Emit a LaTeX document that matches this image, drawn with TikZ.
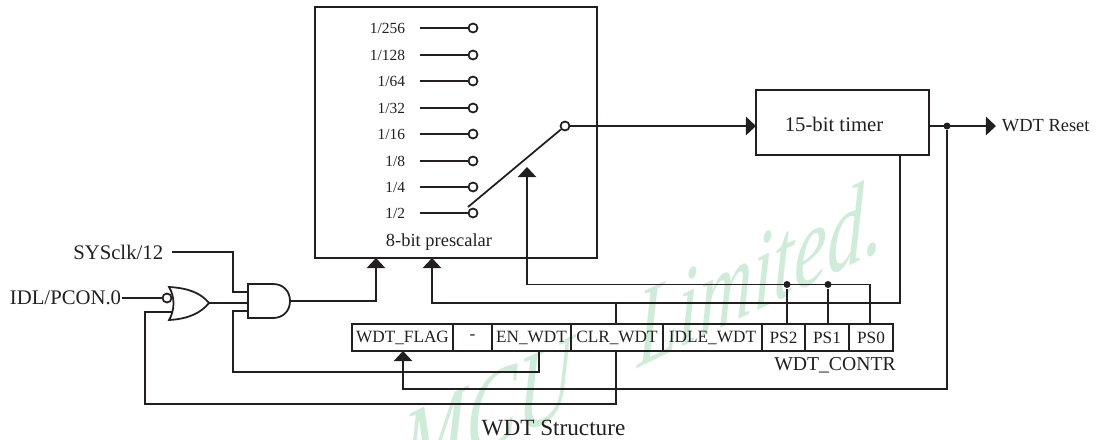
\documentclass[tikz,border=0pt]{standalone}
\usepackage{fontspec}
\setmainfont{Liberation Serif}
\usetikzlibrary{arrows.meta}
\definecolor{ink}{HTML}{231F20}
\definecolor{stamp}{HTML}{CFECD8}
\tikzset{
    lbl/.style={inner sep=0pt, font=\fontsize{#1}{#1}\selectfont},
    cell/.style={draw, inner sep=0pt, outer sep=0pt, minimum height=.54cm, font=\fontsize{9.8}{10}\selectfont},
    rate/.style={lbl=8.8, anchor=east},
    pin/.style={draw, circle, fill=white, inner sep=0pt, minimum size=.18cm},
    dot/.style={fill, circle, inner sep=0pt, minimum size=.14cm},
    arr/.style={-{Triangle[width=10.4pt,length=5.7pt]}},
    stamptext/.style={text=stamp, inner sep=0pt, anchor=base west, transform shape, font=\fontsize{64}{64}\selectfont\itshape}
}
\begin{document}
\begin{tikzpicture}[x=.2mm, y=-.2mm, line width=1pt, color=ink]
    \useasboundingbox (0,0) rectangle (1097,439);

    % watermark
    \begin{scope}
        \clip (0,0) rectangle (1097,439);
        \node[stamptext, yslant=.485, xscale=.68] (stampa) at (402,492) {MCU};
        \node[stamptext, yslant=.485, xscale=.66] (stampb) at (637,369) {Limited.};
    \end{scope}

    \node[draw, minimum width=5.64cm, minimum height=5.02cm, outer sep=0pt] (pre) at (456,132.5) {};
    \node[draw, minimum width=3.46cm, minimum height=1.3cm, outer sep=0pt] (tim) at (842.5,122.5) {};
    \node[lbl=11.8] (timtxt) at (834,124) {15-bit timer};
    \node[lbl=10.5] (pretxt) at (439,242) {8-bit prescalar};

    % rates
    \node[rate] (r256) at (406,28) {1/256};
    \node[rate] (r128) at (406,55) {1/128};
    \node[rate] (r64) at (406,81) {1/64};
    \node[rate] (r32) at (406,108) {1/32};
    \node[rate] (r16) at (406,134) {1/16};
    \node[rate] (r8) at (406,161) {1/8};
    \node[rate] (r4) at (406,187) {1/4};
    \node[rate] (r2) at (406,213) {1/2};
    \node[pin] (p256) at (473,28) {};
    \node[pin] (p128) at (473,55) {};
    \node[pin] (p64) at (473,81) {};
    \node[pin] (p32) at (473,108) {};
    \node[pin] (p16) at (473,134) {};
    \node[pin] (p8) at (473,161) {};
    \node[pin] (p4) at (473,187) {};
    \node[pin] (p2) at (473,213) {};
    \draw ([xshift=.28cm]r256.east) -- (p256.west);
    \draw ([xshift=.28cm]r128.east) -- (p128.west);
    \draw ([xshift=.28cm]r64.east) -- (p64.west);
    \draw ([xshift=.28cm]r32.east) -- (p32.west);
    \draw ([xshift=.28cm]r16.east) -- (p16.west);
    \draw ([xshift=.28cm]r8.east) -- (p8.west);
    \draw ([xshift=.28cm]r4.east) -- (p4.west);
    \draw ([xshift=.28cm]r2.east) -- (p2.west);

    % switch
    \node[pin] (swpin) at (565,126) {};
    \coordinate (swfoot) at (468,207);
    \draw (swfoot) -- (swpin);
    \draw[arr] (swpin.east) -- (tim.west |- swpin);

    % register
    \node[cell, minimum width=2.02cm] (flag) at (402.5,337.5) {WDT\_FLAG};
    \node[cell, minimum width=.78cm] (dash) at (472.5,337.5) {-};
    \node[cell, minimum width=1.58cm] (en) at (531.5,337.5) {EN\_WDT};
    \node[cell, minimum width=1.84cm] (clr) at (617,337.5) {CLR\_WDT};
    \node[cell, minimum width=1.98cm] (idle) at (712.5,337.5) {IDLE\_WDT};
    \node[cell, minimum width=.86cm] (ps2) at (783.5,337.5) {PS2};
    \node[cell, minimum width=.88cm] (ps1) at (827,337.5) {PS1};
    \node[cell, minimum width=.88cm] (ps0) at (871,337.5) {PS0};
    \node[lbl=11.2] (contr) at (835,365) {WDT\_CONTR};
    \node[lbl=13.2] (title) at (553.5,428) {WDT Structure};

    % outputs
    \node[lbl=10.5, inner sep=.1cm, anchor=west] (rst) at (996,126) {WDT Reset};
    \node[dot] (rstdot) at (947,126) {};
    \draw[arr] (tim.east |- rst) -- (rst.west);
    \coordinate (rstb) at (947,389);
    \coordinate (flagb) at (403,389);
    \draw[arr] (rstdot) -- (rstb) -- (flagb) -- (flagb |- flag.south);

    % prescaler and switch controls
    \coordinate (clrr) at (900,303);
    \coordinate (clrl) at (432,303);
    \coordinate (clrj) at (616,303);
    \draw[arr] (clrr |- tim.south) -- (clrr) -- (clrl) -- (clrl |- pre.south);
    \draw (clrj) -- (clrj |- clr.north);
    \node[dot] (d2) at (787,284.5) {};
    \node[dot] (d1) at (828,284.5) {};
    \coordinate (psr) at (870,284.5);
    \coordinate (psl) at (527,284.5);
    \coordinate (swtip) at (527,167);
    \draw[arr] (psr |- ps0.north) -- (psr) -- (psl) -- (swtip);
    \draw (d2) -- (d2 |- ps2.north);
    \draw (d1) -- (d1 |- ps1.north);

    % gates
    \draw (248,284) -- (273,284) .. controls (283,284) and (290,291) .. (290,301)
        .. controls (290,311) and (283,318) .. (273,318) -- (248,318) -- cycle;
    \draw (169,287) .. controls (188,288) and (201,293) .. (209,303)
        .. controls (201,313) and (188,319) .. (169,320)
        .. controls (175,310) and (175,297) .. (169,287) -- cycle;
    \coordinate (ororout) at (209,303);
    \coordinate (andmid) at (248,303);
    \coordinate (andout) at (290,301);
    \draw (ororout) -- (andmid);
    \coordinate (preup) at (376,301);
    \draw[arr] (andout) -- (preup) -- (preup |- pre.south);

    % inputs
    \node[lbl=11.8, anchor=east] (sys) at (164,252) {SYSclk/12};
    \node[lbl=11.8, anchor=east] (idl) at (122,298) {IDL/PCON.0};
    \node[pin] (orpin) at (167,298) {};
    \draw (idl.east) -- (orpin.west);
    \coordinate (sysa) at (233,252);
    \coordinate (sysb) at (233,292);
    \coordinate (andtop) at (248,292);
    \draw ([xshift=.16cm]sys.east) -- (sysa) -- (sysb) -- (andtop);
    \coordinate (ena) at (233,372);
    \coordinate (enb) at (233,311);
    \coordinate (andlow) at (248,311);
    \coordinate (enc) at (539,372);
    \draw (enc |- en.south) -- (enc) -- (ena) -- (enb) -- (andlow);
    \coordinate (clrb) at (616,404);
    \coordinate (orc) at (145,404);
    \coordinate (ord) at (145,312);
    \coordinate (orlow) at (172,312);
    \draw (clrb |- clr.south) -- (clrb) -- (orc) -- (ord) -- (orlow);
\end{tikzpicture}
\end{document}
